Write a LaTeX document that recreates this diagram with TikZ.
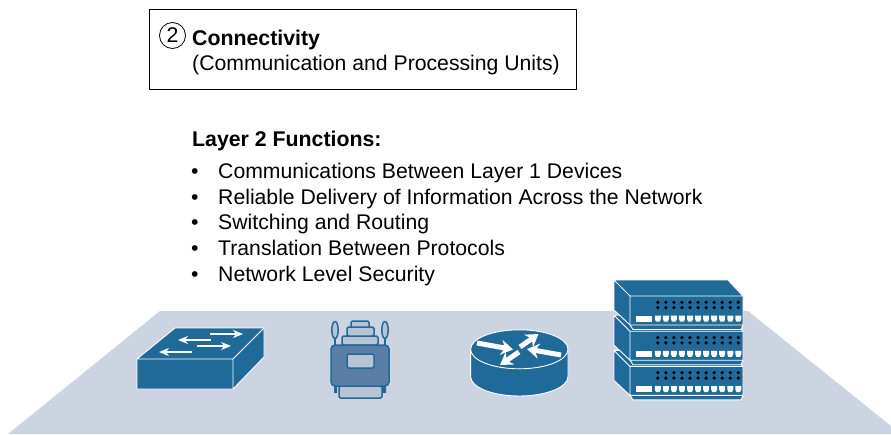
\documentclass[tikz,border=0pt]{standalone}
\usepackage{fontspec}
\setmainfont{Liberation Sans}
\usetikzlibrary{arrows.meta}
\definecolor{floorgray}{HTML}{CDD4E1}
\definecolor{deviceblue}{HTML}{206A99}
\definecolor{bodyblue}{HTML}{5A7EA6}
\definecolor{lightblue}{HTML}{B8C4D6}
\tikzset{
	label text/.style = {anchor = base west, inner sep = 0pt, font = \fontsize{21.2}{25}\selectfont},
	head text/.style = {label text, font = \fontsize{21.3}{25}\selectfont\bfseries},
	device/.style = {fill = deviceblue, draw = white, line width = .9pt},
	adapter/.style = {draw = deviceblue, line width = 1.5pt, rounded corners = 1.5pt},
	small arrow/.style = {white, line width = 1.7pt, -{Stealth[length = 10pt, width = 8pt]}},
	big arrow/.style = {white, line width = 5pt, -{Stealth[length = 12pt, width = 15pt]}},
}
\begin{document}
\begin{tikzpicture}[line join = round, x = 1pt, y = -1pt]
	\useasboundingbox (0,0) rectangle (891,434);
	\path
	(362.5,49) node[draw, line width = .9pt, minimum width = 427pt, minimum height = 80pt, inner sep = 0pt] (box) {}
	(172.5,35.5) node[draw, circle, line width = .8pt, minimum size = 26pt, inner sep = 0pt, font = \fontsize{21.3}{25}\selectfont] (num) {2}
	(192,45) node[head text] (conn) {Connectivity}
	(192,70.5) node[label text] (units) {(Communication and Processing Units)}
	(192,146) node[head text] (layer) {Layer 2 Functions:}
	;
	\foreach \y/\t/\n in {178.5/Communications Between Layer 1 Devices/a,
		204/Reliable Delivery of Information Across the Network/b,
		229.5/Switching and Routing/c,
		255.5/Translation Between Protocols/d,
		281/Network Level Security/e}
	{
		\node[label text] (bul\n) at (191,\y) {•};
		\node[label text] (item\n) at (218,\y) {\t};
	}
	% floor
	\fill[floorgray] (160,311)--(748,311)--(891,426)--(891,434)--(8,434)--cycle;
	% switch
	\draw[device]
	(137,359)--(233,359)--(233,389)--(137,389)--cycle
	(137,359)--(175,328)--(264,328)--(233,359)
	(233,389)--(264,357)--(264,328)--(233,359)--cycle
	;
	\path
	(210,334) coordinate (s1a) (243,334) coordinate (s1b)
	(211,340) coordinate (s2a) (178,340) coordinate (s2b)
	(197,346) coordinate (s3a) (231,346) coordinate (s3b)
	(192,352) coordinate (s4a) (159,352) coordinate (s4b)
	;
	\foreach \x in {1,2,3,4}
	\draw[small arrow] (s\x a)--(s\x b);
	% adapter
	\draw[adapter, fill = lightblue]
	(351,327)--(351,321)--(369,321)--(369,327)
	(347,336) rectangle (374,327)
	(342,345) rectangle (378,336)
	(339,386) rectangle (382,398)
	;
	\draw[adapter, fill = lightblue] (335,330) ellipse (3.2pt and 8.5pt);
	\draw[adapter, fill = lightblue] (385,330) ellipse (3.2pt and 8.5pt);
	\draw[adapter] (335,338)--(335,345) (385,338)--(385,345);
	\fill[deviceblue] (334,386) rectangle (337,393) (383,386) rectangle (386,393);
	\draw[adapter, rounded corners = 4pt, fill = bodyblue] (331,345) rectangle (389,386);
	\draw[adapter, fill = lightblue] (347,354) rectangle (374,368);
	% router
	\draw[device]
	(470.6,349.3)--(470.6,376.5) arc[start angle = 180, end angle = 360, x radius = 48.7, y radius = -19.5]
	--(568,349.3)
	;
	\draw[device] (519.3,349.3) ellipse (48.7pt and 19.5pt);
	\path
	(477,343) coordinate (r1a) (513,349.5) coordinate (r1b)
	(561,355) coordinate (r2a) (527,349) coordinate (r2b)
	(520,347) coordinate (r3a) (538.5,334) coordinate (r3b)
	(519,352) coordinate (r4a) (500,365) coordinate (r4b)
	;
	\foreach \x in {1,2,3,4}
	\draw[big arrow] (r\x a)--(r\x b);
	% stack
	\foreach \u in {70.4,35.2,0}
	{
		\begin{scope}[shift = {(0,\u)}]
			\draw[device]
			(614,280)--(728,280)--(743,296)--(630,296)--cycle
			(614,280)--(630,296)--(630,325)--(614,310)--cycle
			(630,296) rectangle (743,325)
			(630,325)--(743,325)--(741,329.5)--(633,329.5)--cycle
			;
			\fill[white] (635.7,315.7) rectangle (652.3,321.7);
			\foreach \x in {0,...,10}
			{
				\fill (657.8+8.05*\x,302.3) circle (1.8pt);
				\fill (657.8+8.05*\x,307.7) circle (1.8pt);
				\fill[white] (654.8+8.05*\x,315.7)--(660.8+8.05*\x,315.7)--(660.8+8.05*\x,319)--(659.6+8.05*\x,321.7)--(656+8.05*\x,321.7)--(654.8+8.05*\x,319)--cycle;
			}
		\end{scope}
	}
\end{tikzpicture}
\end{document}
